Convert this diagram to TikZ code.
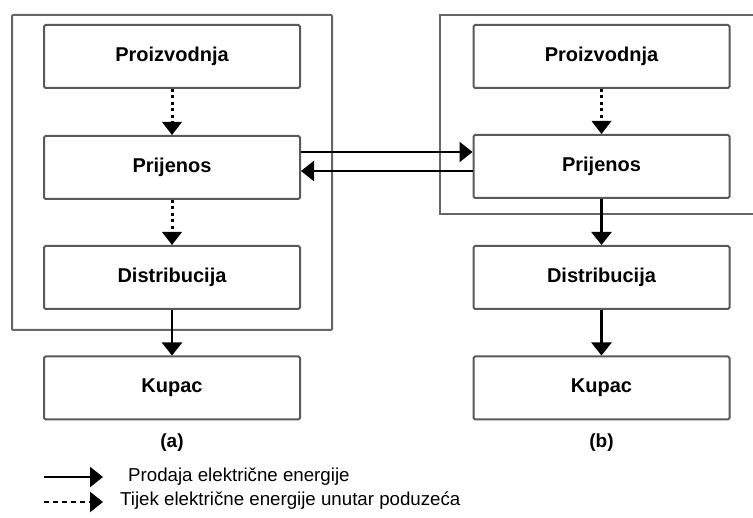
\documentclass[tikz,border=0pt]{standalone}
\usepackage{fontspec}
\setmainfont{Liberation Sans}
\usetikzlibrary{arrows.meta}
\begin{document}
\begin{tikzpicture}[x=1pt,y=-1pt,
  blok/.style={draw=black!65,line width=2pt,rounded corners=1.5pt,minimum width=256pt,minimum height=63pt,inner sep=0pt,font=\fontsize{20}{22}\selectfont\bfseries},
  okvir/.style={draw=black!60,line width=2pt,rounded corners=1pt},
  strj/.style={line width=2.4pt,-{Triangle[length=13pt,width=20pt]}},
  tocka/.style={line width=3pt,dash pattern=on 3pt off 3.5pt,-{Triangle[length=13pt,width=20pt,line width=0pt]}},
  crtk/.style={line width=2.6pt,dash pattern=on 5pt off 4pt,-{Triangle[length=13pt,width=20pt]}},
  opis/.style={font=\fontsize{18.7}{20}\selectfont,anchor=west,inner sep=0pt},
  oznaka/.style={font=\fontsize{19}{21}\selectfont\bfseries,inner sep=0pt}]
\useasboundingbox (0,0) rectangle (753,518);
% frames
\draw[okvir] (12,15) rectangle (332,330);
\draw[okvir,rounded corners=0pt] (760,15) -- (440,15) -- (440,214) -- (760,214);
% left
\node[blok] (lpr) at (172,56.5) {Proizvodnja};
\node[blok] (lpj) at (172,167.5) {Prijenos};
\node[blok] (ldi) at (172,277.5) {Distribucija};
\node[blok] (lku) at (172,388) {Kupac};
% right
\node[blok] (rpr) at (601.5,56.5) {Proizvodnja};
\node[blok] (rpj) at (601.5,166.5) {Prijenos};
\node[blok] (rdi) at (601.5,277.5) {Distribucija};
\node[blok] (rku) at (601.5,388) {Kupac};
% labels
\node[oznaka] (la) at (172,443) {(a)};
\node[oznaka] (lb) at (601.5,443) {(b)};
% arrows
\draw[tocka] (lpr) -- (lpj);
\draw[tocka] (lpj) -- (ldi);
\draw[strj] (ldi) -- (lku);
\draw[tocka] (rpr) -- (rpj);
\draw[strj] (rpj) -- (rdi);
\draw[strj] (rdi) -- (rku);
\draw[strj] ([yshift=15.5pt]lpj.east) -- ([yshift=15.5pt]lpj.east -| rpj.west);
\draw[strj] ([yshift=-3.5pt]lpj.east -| rpj.west) -- ([yshift=-3.5pt]lpj.east);
% legend
\coordinate (s1) at (44,477);
\coordinate (e1) at (103,477);
\coordinate (s2) at (44,502);
\coordinate (e2) at (103,502);
\draw[strj] (s1) -- (e1);
\draw[crtk] (s2) -- (e2);
\node[opis] (t1) at (128,477) {Prodaja električne energije};
\node[opis] (t2) at (120,501) {Tijek električne energije unutar poduzeća};
\end{tikzpicture}
\end{document}
